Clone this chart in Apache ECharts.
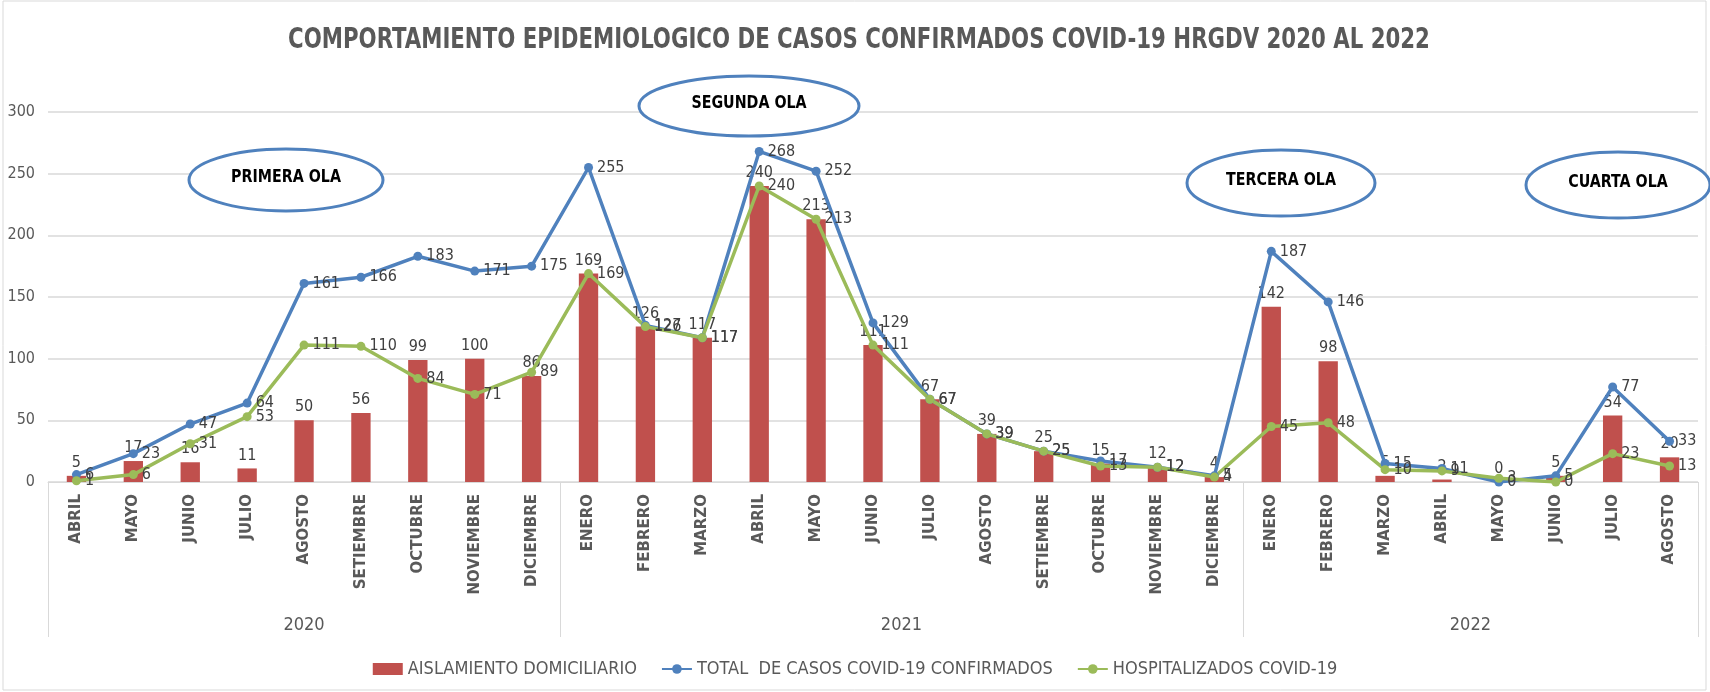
<!DOCTYPE html>
<html>
<head>
<meta charset="utf-8">
<title>COVID-19 HRGDV</title>
<script src="https://cdn.jsdelivr.net/npm/echarts@6/dist/echarts.min.js"></script>
<style>
html, body { margin: 0; padding: 0; background: #fff; }
#chart { width: 1710px; height: 692px; }
</style>
</head>
<body>
<div id="chart"></div>
<script>
// meses (abril 2020 - agosto 2022)
var months = ['ABRIL', 'MAYO', 'JUNIO', 'JULIO', 'AGOSTO', 'SETIEMBRE', 'OCTUBRE', 'NOVIEMBRE', 'DICIEMBRE',
    'ENERO', 'FEBRERO', 'MARZO', 'ABRIL', 'MAYO', 'JUNIO', 'JULIO', 'AGOSTO', 'SETIEMBRE', 'OCTUBRE', 'NOVIEMBRE', 'DICIEMBRE',
    'ENERO', 'FEBRERO', 'MARZO', 'ABRIL', 'MAYO', 'JUNIO', 'JULIO', 'AGOSTO'];
var years = ['2020', '2021', '2022'];
var monthsPerYear = [9, 12, 8];

var aislamiento = [5, 17, 16, 11, 50, 56, 99, 100, 86,
    169, 126, 117, 240, 213, 111, 67, 39, 25, 15, 12, 4,
    142, 98, 5, 2, 0, 5, 54, 20];
var totalCasos = [6, 23, 47, 64, 161, 166, 183, 171, 175,
    255, 127, 117, 268, 252, 129, 67, 39, 25, 17, 12, 5,
    187, 146, 15, 11, 0, 5, 77, 33];
var hospitalizados = [1, 6, 31, 53, 111, 110, 84, 71, 89,
    169, 126, 117, 240, 213, 111, 67, 39, 25, 13, 12, 4,
    45, 48, 10, 9, 3, 0, 23, 13];

var NARROW = "'Liberation Sans Narrow', 'DejaVu Sans Condensed', sans-serif";

// eje de años: puntos a media columna, etiqueta al centro de cada año
var yearSlots = [];
for (var i = 0; i <= months.length * 2; i++) yearSlots.push('');
var yearBounds = [0];
var start = 0;
for (var k = 0; k < years.length; k++) {
    yearSlots[start * 2 + monthsPerYear[k]] = years[k];
    start += monthsPerYear[k];
    yearBounds.push(start * 2);
}

var olas = [
    {text: 'PRIMERA OLA', cx: 286, cy: 180, rx: 97, ry: 31},
    {text: 'SEGUNDA OLA', cx: 749, cy: 106, rx: 110, ry: 30},
    {text: 'TERCERA OLA', cx: 1281, cy: 183, rx: 94, ry: 33},
    {text: 'CUARTA OLA', cx: 1618, cy: 185, rx: 92, ry: 33}
];
var graphics = [{
    type: 'rect', shape: {x: 3, y: 1, width: 1703, height: 689},
    style: {fill: null, stroke: '#d9d9d9', lineWidth: 1}, z: -1
}, {
    // titulo con letra condensada
    type: 'text', x: 859, y: 41, scaleX: 0.845, z: 100,
    style: {
        text: 'COMPORTAMIENTO EPIDEMIOLOGICO DE CASOS CONFIRMADOS COVID-19 HRGDV 2020 AL 2022',
        fill: '#595959', font: 'bold 28px ' + NARROW, align: 'center', verticalAlign: 'middle'
    }
}];
olas.forEach(function (o) {
    graphics.push({
        type: 'ellipse', z: 100,
        shape: {cx: o.cx, cy: o.cy, rx: o.rx, ry: o.ry},
        style: {fill: '#fff', stroke: '#4F81BD', lineWidth: 3}
    });
    graphics.push({
        type: 'text', z: 101, x: o.cx, y: o.cy - 3, scaleX: 0.88,
        style: {text: o.text, fill: '#000', font: 'bold 18px ' + NARROW, align: 'center', verticalAlign: 'middle'}
    });
});

var lineLabel = {show: true, position: 'right', distance: 4, fontSize: 16, color: '#404040', fontFamily: NARROW};

var myChart = echarts.init(document.getElementById('chart'));
var option = {
    animation: false,
    legend: {
        left: 'center', top: 655, itemWidth: 30, itemHeight: 12, itemGap: 24,
        textStyle: {fontSize: 18, color: '#595959', fontFamily: NARROW},
        data: [
            {name: 'AISLAMIENTO DOMICILIARIO', icon: 'rect'},
            'TOTAL  DE CASOS COVID-19 CONFIRMADOS',
            'HOSPITALIZADOS COVID-19'
        ]
    },
    grid: {left: 48, right: 12, top: 112, bottom: 210},
    xAxis: [{
        type: 'category',
        data: months,
        axisLine: {lineStyle: {color: '#d9d9d9'}},
        axisTick: {show: false},
        axisLabel: {
            interval: 0, rotate: 90, margin: 12,
            fontSize: 15, fontWeight: 'bold', color: '#595959', fontFamily: 'DejaVu Sans'
        }
    }, {
        type: 'category',
        position: 'bottom',
        boundaryGap: false,
        data: yearSlots,
        axisLine: {show: false},
        axisTick: {
            show: true, length: 155,
            interval: function (idx) { return yearBounds.indexOf(idx) >= 0; },
            lineStyle: {color: '#d9d9d9'}
        },
        axisLabel: {
            interval: function (idx, val) { return val !== ''; },
            margin: 134, fontSize: 18, color: '#595959', fontFamily: NARROW
        }
    }],
    yAxis: {
        type: 'value', min: 0, max: 300, interval: 50,
        axisLine: {show: false},
        axisTick: {show: false},
        splitLine: {lineStyle: {color: '#d9d9d9', width: 1.5}},
        axisLabel: {margin: 13, fontSize: 16, color: '#595959', fontFamily: NARROW}
    },
    graphic: graphics,
    series: [{
        name: 'AISLAMIENTO DOMICILIARIO',
        type: 'bar',
        data: aislamiento,
        barWidth: '34%',
        itemStyle: {color: '#C0504D'},
        label: {show: true, position: 'top', distance: 5, fontSize: 16, color: '#404040', fontFamily: NARROW}
    }, {
        name: 'TOTAL  DE CASOS COVID-19 CONFIRMADOS',
        type: 'line',
        data: totalCasos,
        symbol: 'circle', symbolSize: 9,
        itemStyle: {color: '#4F81BD'},
        lineStyle: {width: 3.5, color: '#4F81BD'},
        label: lineLabel
    }, {
        name: 'HOSPITALIZADOS COVID-19',
        type: 'line',
        data: hospitalizados,
        symbol: 'circle', symbolSize: 9,
        itemStyle: {color: '#9BBB59'},
        lineStyle: {width: 3.5, color: '#9BBB59'},
        label: lineLabel
    }]
};
myChart.setOption(option);
</script>
</body>
</html>
